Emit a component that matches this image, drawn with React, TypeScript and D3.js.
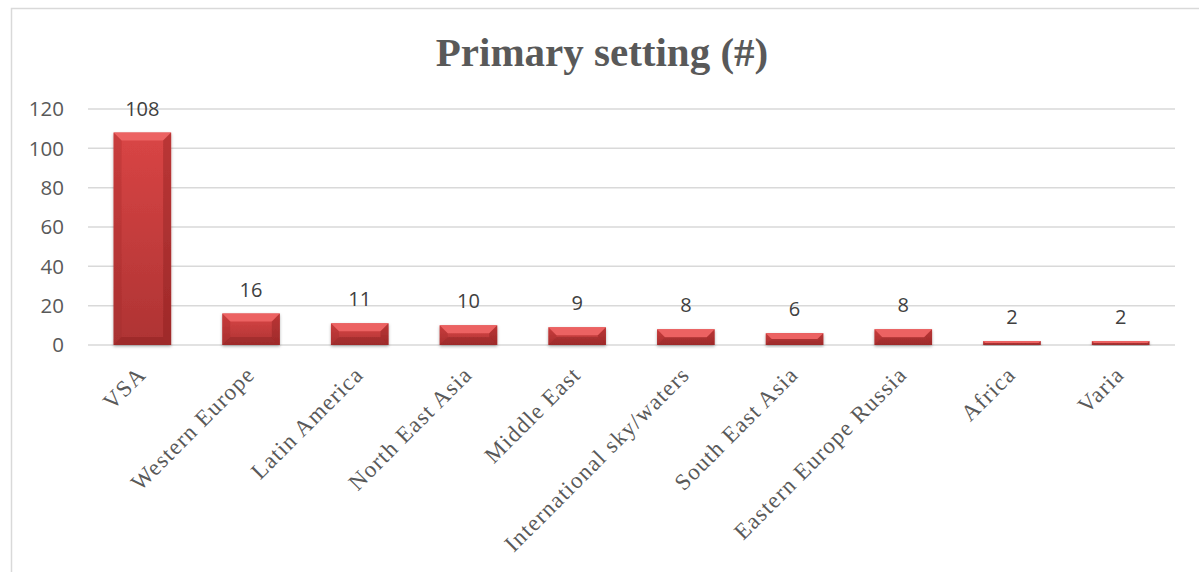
import * as d3 from "d3";
import React, { useEffect, useRef } from "react";

const categories = [
  "VSA",
  "Western Europe",
  "Latin America",
  "North East Asia",
  "Middle East",
  "International sky/waters",
  "South East Asia",
  "Eastern Europe Russia",
  "Africa",
  "Varia",
];
const counts = [108, 16, 11, 10, 9, 8, 6, 8, 2, 2];
const yTicks = [0, 20, 40, 60, 80, 100, 120];

const WIDTH = 1199;
const HEIGHT = 572;

function drawChart(el: SVGSVGElement) {
  const svg = d3.select(el);
  svg.selectAll("*").remove();

  const x = d3
    .scaleBand<string>()
    .domain(categories)
    .range([88, 1175])
    .paddingInner(0.47)
    .paddingOuter(0.235);
  const y = d3.scaleLinear().domain([0, 120]).range([345, 109]);

  const defs = svg.append("defs");
  const body = defs
    .append("linearGradient")
    .attr("id", "barBody")
    .attr("x1", 0)
    .attr("y1", 0)
    .attr("x2", 0)
    .attr("y2", 1);
  body.append("stop").attr("offset", "0%").attr("stop-color", "#d94545");
  body.append("stop").attr("offset", "100%").attr("stop-color", "#ae3333");

  const shadow = defs.append("filter").attr("id", "shadow").attr("x", "-20%").attr("y", "-20%").attr("width", "140%").attr("height", "140%");
  shadow
    .append("feDropShadow")
    .attr("dx", 0)
    .attr("dy", 1.5)
    .attr("stdDeviation", 1.5)
    .attr("flood-color", "#000")
    .attr("flood-opacity", 0.3);

  // chart frame
  svg
    .append("rect")
    .attr("x", 11.5)
    .attr("y", 8.5)
    .attr("width", 1300)
    .attr("height", 700)
    .attr("fill", "#fff")
    .attr("stroke", "#d9d9d9")
    .attr("stroke-width", 1.5);

  // title
  svg
    .append("text")
    .attr("x", 602)
    .attr("y", 66)
    .attr("text-anchor", "middle")
    .attr("font-family", "'Liberation Serif', 'DejaVu Serif', serif")
    .attr("font-weight", "bold")
    .attr("font-size", 41)
    .attr("fill", "#595959")
    .text("Primary setting (#)");

  // gridlines
  svg
    .append("g")
    .selectAll("line")
    .data(yTicks)
    .join("line")
    .attr("x1", 88)
    .attr("x2", 1175)
    .attr("y1", d => y(d))
    .attr("y2", d => y(d))
    .attr("stroke", "#d9d9d9")
    .attr("stroke-width", 1.5);

  // y tick labels
  svg
    .append("g")
    .selectAll("text")
    .data(yTicks)
    .join("text")
    .attr("x", 64)
    .attr("y", d => y(d))
    .attr("dy", "0.35em")
    .attr("text-anchor", "end")
    .attr("font-family", "'Open Sans', 'Liberation Sans', sans-serif")
    .attr("font-size", 20.5)
    .attr("fill", "#595959")
    .text(d => d);

  // bars with bevel
  const bw = x.bandwidth();
  const bars = svg
    .append("g")
    .selectAll("g")
    .data(categories.map((c, i) => ({ c, v: counts[i] })))
    .join("g")
    .attr("filter", "url(#shadow)");

  bars.each(function (d) {
    const g = d3.select(this);
    const x0 = x(d.c)!;
    const y0 = y(d.v);
    const h = y(0) - y0;
    const b = Math.min(8, h / 2);
    g.append("rect").attr("x", x0).attr("y", y0).attr("width", bw).attr("height", h).attr("fill", "url(#barBody)");
    const poly = (pts: number[][], fill: string) =>
      g.append("polygon").attr("points", pts.map(p => p.join(",")).join(" ")).attr("fill", fill);
    poly([[x0, y0], [x0 + bw, y0], [x0 + bw - b, y0 + b], [x0 + b, y0 + b]], "#ec6262");
    poly([[x0, y0], [x0 + b, y0 + b], [x0 + b, y0 + h - b], [x0, y0 + h]], "rgba(150,35,35,0.25)");
    poly([[x0 + bw, y0], [x0 + bw - b, y0 + b], [x0 + bw - b, y0 + h - b], [x0 + bw, y0 + h]], "rgba(130,25,25,0.35)");
    poly([[x0, y0 + h], [x0 + b, y0 + h - b], [x0 + bw - b, y0 + h - b], [x0 + bw, y0 + h]], "rgba(120,25,25,0.3)");
  });

  // data labels
  svg
    .append("g")
    .selectAll("text")
    .data(counts)
    .join("text")
    .attr("x", (d, i) => x(categories[i])! + bw / 2)
    .attr("y", d => y(d) - 17)
    .attr("text-anchor", "middle")
    .attr("font-family", "'Open Sans', 'Liberation Sans', sans-serif")
    .attr("font-size", 20)
    .attr("fill", "#404040")
    .text(d => d);

  // x labels
  svg
    .append("g")
    .selectAll("text")
    .data(categories)
    .join("text")
    .attr("transform", d => `translate(${x(d)! + bw / 2 + 5},${376}) rotate(-45)`)
    .attr("text-anchor", "end")
    .attr("font-family", "'Liberation Serif', 'DejaVu Serif', serif")
    .attr("font-size", 23)
    .attr("letter-spacing", 1.2)
    .attr("fill", "#595959")
    .text(d => d);
}

export default function App() {
  const ref = useRef<SVGSVGElement>(null);
  useEffect(() => {
    if (ref.current) drawChart(ref.current);
  }, []);
  return (
    <svg
      ref={ref}
      width={WIDTH}
      height={HEIGHT}
      style={{ position: "absolute", left: 0, top: 0, background: "#fff" }}
    />
  );
}
